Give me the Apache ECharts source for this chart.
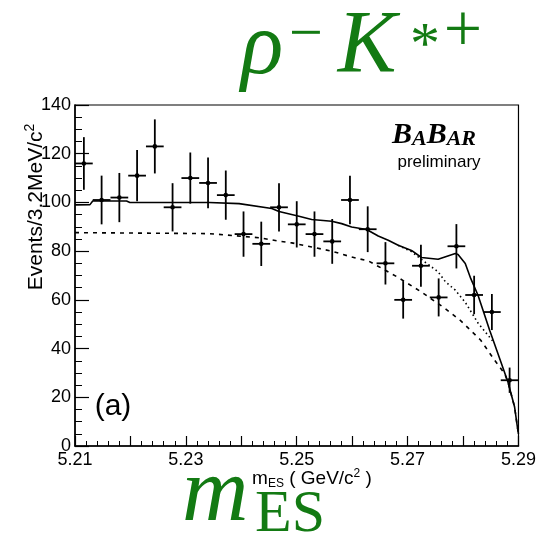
<!DOCTYPE html>
<html>
<head>
<meta charset="utf-8">
<script src="https://cdn.jsdelivr.net/npm/echarts@6/dist/echarts.min.js"></script>
<style>html,body{margin:0;padding:0;background:#fff}#c{width:539px;height:538px}</style>
</head>
<body>
<div id="c"></div>
<script>
// ---- data ----
const binCenters = [5.2116, 5.2148, 5.2180, 5.2212, 5.2244, 5.2276, 5.2308, 5.2340, 5.2372, 5.2404,
  5.2436, 5.2468, 5.2500, 5.2532, 5.2564, 5.2596, 5.2628, 5.2660, 5.2692, 5.2724,
  5.2756, 5.2788, 5.2820, 5.2852, 5.2884];
const counts = [116, 101, 102, 111, 123, 98, 110, 108, 103, 87,
  83, 98, 91, 87, 84, 101, 89, 75, 60, 74,
  61, 82, 62, 55, 27];
const errors = [10.8, 10.0, 10.1, 10.5, 11.1, 9.9, 10.5, 10.4, 10.1, 9.3,
  9.1, 9.9, 9.5, 9.3, 9.2, 10.0, 9.4, 8.7, 7.7, 8.6,
  7.8, 9.1, 7.9, 7.4, 5.2];
const binHalfWidth = 0.0016;

const totalX = [5.2100, 5.2127, 5.2132, 5.2193, 5.2199, 5.2288, 5.2342, 5.2396, 5.2455, 5.2468,
  5.2504, 5.2527, 5.2563, 5.2581, 5.2599, 5.2626, 5.2647, 5.2665, 5.2683, 5.2707,
  5.2725, 5.2755, 5.2786, 5.2791, 5.2804, 5.2814, 5.2827, 5.2836, 5.2848, 5.2863,
  5.2881, 5.2893, 5.2898, 5.2900];
const totalY = [99.0, 99.1, 100.6, 100.6, 100.0, 100.0, 100.0, 99.5, 97.5, 96.3,
  94.3, 93.0, 92.3, 91.3, 89.9, 88.9, 86.2, 84.5, 82.4, 80.3,
  77.4, 76.7, 79.0, 78.6, 74.9, 68.7, 61.9, 55.7, 47.5, 37.9,
  26.3, 16.0, 7.8, 5.0];
const dotX = [5.2683, 5.2707, 5.2725, 5.2755, 5.2768, 5.2786, 5.2804, 5.2827, 5.2855];
const dotY = [82.4, 79.8, 76.6, 71.5, 67.5, 64.0, 59.0, 50.5, 42.7];
const bkgX = [5.2100, 5.2342, 5.2432, 5.2468, 5.2491, 5.2527, 5.2563, 5.2599, 5.2630, 5.2653,
  5.2683, 5.2725, 5.2768, 5.2796, 5.2832, 5.2857, 5.2875, 5.2881, 5.2893, 5.2898, 5.2900];
const bkgY = [87.6, 87.2, 85.5, 84.1, 83.4, 81.7, 80.0, 77.6, 75.9, 73.0,
  69.2, 63.2, 56.4, 51.4, 43.4, 35.2, 29.7, 26.3, 16.0, 7.8, 5.0];

const xTicks = [5.21, 5.23, 5.25, 5.27, 5.29];
const yTicks = [0, 20, 40, 60, 80, 100, 120, 140];

// ---- chart ----
const zip = (a, b) => a.map((v, i) => [v, b[i]]);
const pts = binCenters.map((x, i) => [x, counts[i], errors[i]]);
const SANS = 'Liberation Sans, Arial, sans-serif';
const SERIF = 'Liberation Serif, Times New Roman, serif';
const GREEN = '#137a13';

const chart = echarts.init(document.getElementById('c'), null, {renderer: 'canvas'});
chart.setOption({
  animation: false,
  backgroundColor: '#fff',
  grid: {left: 75, top: 105, right: 18, bottom: 92, show: true, borderColor: '#000', borderWidth: 1.2, containLabel: false},
  xAxis: {
    type: 'value', min: 5.21, max: 5.29, interval: 0.01,
    axisLine: {lineStyle: {color: '#000', width: 1.5}},
    axisTick: {inside: true, length: 10, lineStyle: {color: '#000', width: 1.2}},
    minorTick: {show: true, splitNumber: 5, length: 5, lineStyle: {color: '#000', width: 1}},
    splitLine: {show: false},
    axisLabel: {
      color: '#000', fontFamily: SANS, fontSize: 18, margin: 5,
      formatter: v => { const t = xTicks.find(k => Math.abs(k - v) < 1e-6); return t === undefined ? '' : t.toFixed(2); }
    }
  },
  yAxis: {
    type: 'value', min: 0, max: 140, interval: 20,
    axisLine: {lineStyle: {color: '#000', width: 1.5}},
    axisTick: {inside: true, length: 14, lineStyle: {color: '#000', width: 1.2}},
    minorTick: {show: true, splitNumber: 4, length: 7, lineStyle: {color: '#000', width: 1}},
    splitLine: {show: false},
    axisLabel: {color: '#000', fontFamily: SANS, fontSize: 18, margin: 4,
      formatter: v => yTicks.indexOf(v) >= 0 ? String(v) : ''}
  },
  series: [
    {
      type: 'line', data: zip(bkgX, bkgY), showSymbol: false, silent: true,
      lineStyle: {color: '#000', width: 1.6, type: [4, 5]}, z: 2
    },
    {
      type: 'line', data: zip(dotX, dotY), showSymbol: false, silent: true,
      lineStyle: {color: '#000', width: 1.6, type: [1.5, 3]}, z: 2
    },
    {
      type: 'line', data: zip(totalX, totalY), showSymbol: false, silent: true,
      lineStyle: {color: '#000', width: 1.6}, z: 3
    },
    {
      type: 'custom', data: pts, clip: true, z: 4,
      renderItem: (params, api) => {
        const x = api.value(0), y = api.value(1), e = api.value(2);
        const c = api.coord([x, y]);
        const l = api.coord([x - binHalfWidth, y]);
        const r = api.coord([x + binHalfWidth, y]);
        const t = api.coord([x, y + e]);
        const b = api.coord([x, y - e]);
        const st = {stroke: '#000', lineWidth: 1.8};
        return {type: 'group', children: [
          {type: 'line', shape: {x1: l[0], y1: l[1], x2: r[0], y2: r[1]}, style: st},
          {type: 'line', shape: {x1: t[0], y1: t[1], x2: b[0], y2: b[1]}, style: st},
          {type: 'circle', shape: {cx: c[0], cy: c[1], r: 2.3}, style: {fill: '#000'}}
        ]};
      }
    }
  ],
  graphic: [
    // title rho^- K^{*+}
    {type: 'text', x: 262, y: 50, style: {text: 'ρ', font: 'italic 88px ' + SERIF, fill: GREEN, align: 'center', verticalAlign: 'middle'}},
    {type: 'text', x: 306, y: 36, style: {text: '−', font: '60px ' + SERIF, fill: GREEN, align: 'center', verticalAlign: 'middle'}},
    {type: 'text', x: 367, y: 48, style: {text: 'K', font: 'italic 88px ' + SERIF, fill: GREEN, align: 'center', verticalAlign: 'middle'}},
    {type: 'text', x: 425, y: 47, style: {text: '*', font: '60px ' + SERIF, fill: GREEN, align: 'center', verticalAlign: 'middle'}},
    {type: 'text', x: 463, y: 33, style: {text: '+', font: '68px ' + SERIF, fill: GREEN, align: 'center', verticalAlign: 'middle'}},
    // bottom m_ES
    {type: 'text', x: 182, y: 496, style: {text: 'm', font: 'italic 92px ' + SERIF, fill: GREEN, align: 'left', verticalAlign: 'middle'}},
    {type: 'text', x: 255, y: 515, style: {text: 'ES', font: '60px ' + SERIF, fill: GREEN, align: 'left', verticalAlign: 'middle'}},
    // axis titles
    {type: 'text', x: 312, y: 479, style: {
      text: '{m|m}{s|ES}{n| ( GeV/c}{p|2}{n| )}', align: 'center', verticalAlign: 'middle', fill: '#000',
      rich: {
        m: {fontFamily: SANS, fontSize: 19, lineHeight: 22, verticalAlign: 'middle'},
        n: {fontFamily: SANS, fontSize: 19, lineHeight: 22, verticalAlign: 'middle'},
        s: {fontFamily: SANS, fontSize: 12, lineHeight: 22, verticalAlign: 'bottom'},
        p: {fontFamily: SANS, fontSize: 12, lineHeight: 22, verticalAlign: 'top'}
      }
    }},
    {type: 'text', x: 36, y: 207, rotation: Math.PI / 2, style: {
      text: '{n|Events/3.2MeV/c}{p|2}', align: 'center', verticalAlign: 'middle', fill: '#000',
      rich: {
        n: {fontFamily: SANS, fontSize: 21, lineHeight: 26, verticalAlign: 'middle'},
        p: {fontFamily: SANS, fontSize: 14, lineHeight: 26, verticalAlign: 'top'}
      }
    }},
    // BaBar logo
    {type: 'text', x: 392, y: 135, style: {
      text: '{b|B}{a|A}{b|B}{a|AR}', align: 'left', verticalAlign: 'middle', fill: '#000',
      rich: {
        b: {font: 'italic bold 30px ' + SERIF, lineHeight: 30, verticalAlign: 'bottom'},
        a: {font: 'italic bold 22px ' + SERIF, lineHeight: 30, verticalAlign: 'bottom'}
      }
    }},
    {type: 'text', x: 439, y: 162, style: {text: 'preliminary', font: '17px ' + SANS, fill: '#000', align: 'center', verticalAlign: 'middle'}},
    {type: 'text', x: 113, y: 407, style: {text: '(a)', font: '30px ' + SANS, fill: '#000', align: 'center', verticalAlign: 'middle'}}
  ]
});
</script>
</body>
</html>
